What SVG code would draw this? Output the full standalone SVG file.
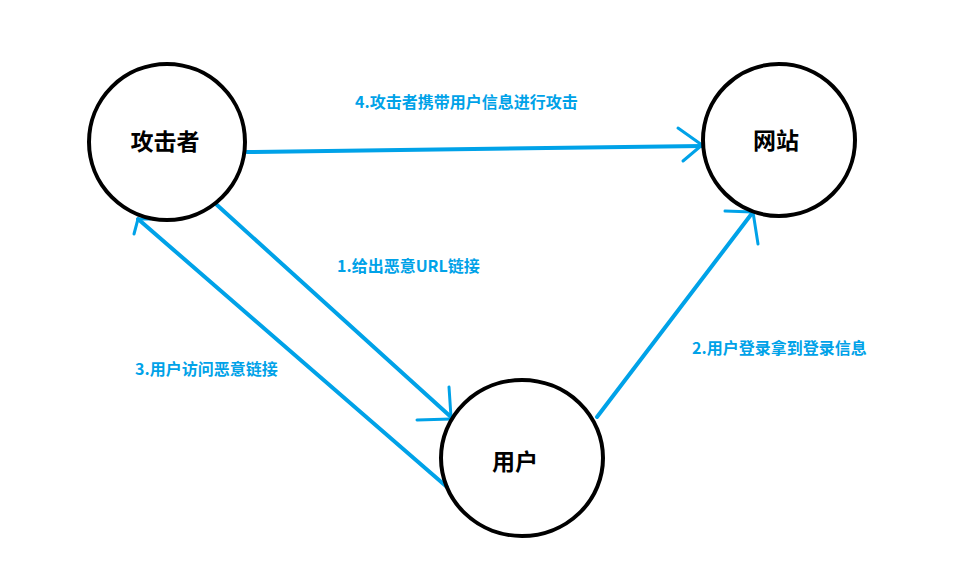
<svg xmlns="http://www.w3.org/2000/svg" width="966" height="562" viewBox="0 0 966 562">
  <style>
    .node { fill: #ffffff; stroke: #000000; stroke-width: 4; }
    .node-label { font-family: "Noto Sans CJK SC", "Liberation Sans", sans-serif; font-size: 23px; font-weight: bold; fill: #000000; text-anchor: middle; }
    .edge { fill: none; stroke: #00a2e8; stroke-width: 4; stroke-linecap: round; stroke-linejoin: round; }
    .head { fill: none; stroke: #00a2e8; stroke-width: 3; stroke-linecap: round; }
    .edge-label { font-family: "Noto Sans CJK SC", "Liberation Sans", sans-serif; font-size: 16px; font-weight: bold; fill: #00a2e8; }
  </style>
  <rect width="966" height="562" fill="#ffffff"/>

  <!-- connectors (drawn under the nodes so circle outlines cover the tips) -->
  <g id="connectors">
    <!-- 1: attacker -> user -->
    <line class="edge" x1="217" y1="205" x2="451" y2="417"/>
    <line class="head" x1="449" y1="387" x2="451" y2="417"/>
    <line class="head" x1="417" y1="420" x2="451" y2="419"/>
    <!-- 2: user -> website -->
    <line class="edge" x1="597" y1="417" x2="753" y2="212"/>
    <line class="head" x1="725" y1="211" x2="753" y2="212"/>
    <line class="head" x1="753" y1="212" x2="758" y2="244"/>
    <!-- 3: user -> attacker -->
    <line class="edge" x1="447" y1="487" x2="138" y2="219"/>
    <line class="head" x1="138" y1="219" x2="134" y2="234"/>
    <line class="head" x1="138" y1="219" x2="150" y2="219"/>
    <!-- 4: attacker -> website -->
    <line class="edge" x1="247" y1="152" x2="702" y2="146"/>
    <line class="head" x1="678" y1="128" x2="702" y2="145"/>
    <line class="head" x1="683" y1="161" x2="702" y2="145"/>
  </g>

  <!-- nodes -->
  <g id="attacker">
    <circle class="node" cx="167" cy="142" r="78" fill-opacity="0"/>
    <text class="node-label" x="165" y="150">攻击者</text>
  </g>
  <g id="website">
    <circle class="node" cx="779" cy="140" r="76" fill-opacity="0"/>
    <text class="node-label" x="776" y="149">网站</text>
  </g>
  <g id="user">
    <ellipse class="node" cx="522" cy="458" rx="81" ry="78" fill-opacity="0"/>
    <text class="node-label" x="515" y="470">用户</text>
  </g>

  <!-- connector labels -->
  <g id="labels">
    <text class="edge-label" x="355" y="108">4.攻击者携带用户信息进行攻击</text>
    <text class="edge-label" x="337" y="272">1.给出恶意URL链接</text>
    <text class="edge-label" x="135" y="375">3.用户访问恶意链接</text>
    <text class="edge-label" x="692" y="354">2.用户登录拿到登录信息</text>
  </g>
</svg>
